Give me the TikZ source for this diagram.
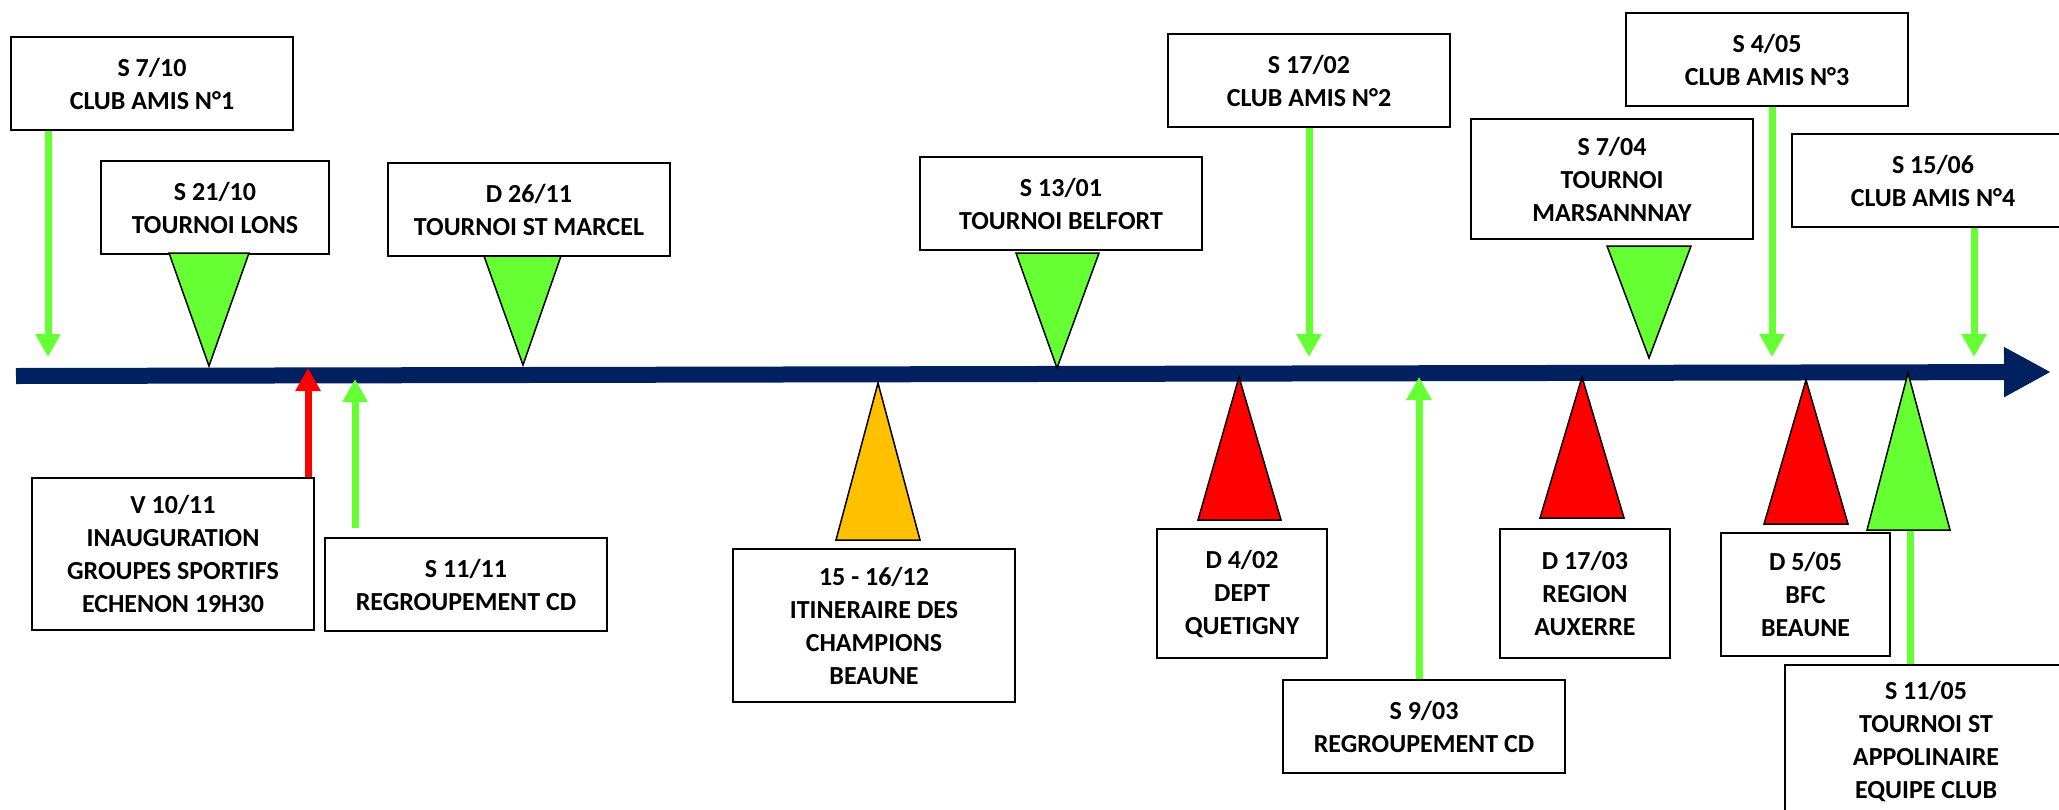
\documentclass[tikz,border=0pt]{standalone}
\usepackage{fontspec}
\setmainfont{Carlito}
\usetikzlibrary{arrows.meta}

\definecolor{navy}{HTML}{002060}
\definecolor{vert}{HTML}{66FF33}
\definecolor{rouge}{HTML}{FF0000}
\definecolor{jaune}{HTML}{FFC000}

\begin{document}
\begin{tikzpicture}[x=0.5pt,y=-0.5pt,
        box/.style={draw, line width=1pt, fill=white, align=center, inner sep=0pt, anchor=north west,
                    font=\fontsize{13}{16.5}\selectfont\bfseries, minimum width=141pt, minimum height=46.5pt},
        flag/.style={draw, line width=0.75pt, line join=miter},
        pointer/.style={line width=3.5pt, -{Triangle[length=11.5pt,width=12pt]}},
        stem/.style={line width=3.5pt}]

        \useasboundingbox (0,0) rectangle (2059,809);

        \node[box]                                          (s0710) at (10,36)    {S 7/10\\CLUB AMIS N°1};
        \node[box, minimum width=114pt]                     (s2110) at (100,160)  {S 21/10\\TOURNOI LONS};
        \node[box]                                          (d2611) at (387,162)  {D 26/11\\TOURNOI ST MARCEL};
        \node[box]                                          (s1301) at (919,156)  {S 13/01\\TOURNOI BELFORT};
        \node[box]                                          (s1702) at (1167,33)  {S 17/02\\CLUB AMIS N°2};
        \node[box, minimum height=60pt]                     (s0704) at (1470,118) {S 7/04\\TOURNOI\\MARSANNNAY};
        \node[box]                                          (s0405) at (1625,12)  {S 4/05\\CLUB AMIS N°3};
        \node[box]                                          (s1506) at (1791,133) {S 15/06\\CLUB AMIS N°4};

        \node[box, minimum height=76pt]                     (v1011) at (31,477)   {V 10/11\\INAUGURATION\\GROUPES SPORTIFS\\ECHENON 19H30};
        \node[box]                                          (s1111) at (324,537)  {S 11/11\\REGROUPEMENT CD};
        \node[box, minimum height=76.5pt]                   (d1512) at (732,548)  {15 - 16/12\\ITINERAIRE DES\\CHAMPIONS\\BEAUNE};
        \node[box, minimum width=85pt, minimum height=64.5pt]   (d0402) at (1156,528) {D 4/02\\DEPT\\QUETIGNY};
        \node[box]                                          (s0903) at (1282,679) {S 9/03\\REGROUPEMENT CD};
        \node[box, minimum width=85pt, minimum height=64.5pt]   (d1703) at (1499,528) {D 17/03\\REGION\\AUXERRE};
        \node[box, minimum width=84.5pt, minimum height=61.5pt] (d0505) at (1720,532) {D 5/05\\BFC\\BEAUNE};
        \node[box, minimum height=76pt]                     (s1105) at (1784,664) {S 11/05\\TOURNOI ST\\APPOLINAIRE\\EQUIPE CLUB};

        \coordinate (debut) at (16,376);
        \coordinate (fin)   at (2051,372);
        \draw[navy, line width=8pt, -{Triangle[length=23.5pt,width=23.5pt]}] (debut) -- (fin);

        \coordinate (p0710) at (48,357);
        \coordinate (p1702) at (1309,357);
        \coordinate (p0405) at (1772,357);
        \coordinate (p1506) at (1974,357);
        \coordinate (p1011) at (308,368);
        \coordinate (p1111) at (355,379);
        \coordinate (p0903) at (1419,377);
        \coordinate (b1105) at (1910,530);

        \draw[pointer, vert]  (s0710.south -| p0710) -- (p0710);
        \draw[pointer, vert]  (s1702.south -| p1702) -- (p1702);
        \draw[pointer, vert]  (s0405.south -| p0405) -- (p0405);
        \draw[pointer, vert]  (s1506.south -| p1506) -- (p1506);
        \draw[pointer, rouge] (v1011.north -| p1011) -- (p1011);
        \draw[pointer, vert, shorten <=4.5pt] (s1111.north -| p1111) -- (p1111);
        \draw[pointer, vert]  (s0903.north -| p0903) -- (p0903);
        \draw[stem, vert]     (s1105.north -| b1105) -- (b1105);

        \draw[flag, fill=vert]  (169,253) -- (249,253) -- (209,366) -- cycle;
        \draw[flag, fill=vert]  (484,256) -- (561,256) -- (523,365) -- cycle;
        \draw[flag, fill=vert]  (1016,253) -- (1099,253) -- (1057,368) -- cycle;
        \draw[flag, fill=vert]  (1607,246) -- (1691,246) -- (1649,358) -- cycle;
        \draw[flag, fill=jaune] (836,540) -- (920,540) -- (878,383) -- cycle;
        \draw[flag, fill=rouge] (1198,520) -- (1281,520) -- (1239,377) -- cycle;
        \draw[flag, fill=rouge] (1540,518) -- (1624,518) -- (1582,377) -- cycle;
        \draw[flag, fill=rouge] (1764,524) -- (1848,524) -- (1806,380) -- cycle;
        \draw[flag, fill=vert]  (1867,530) -- (1950,530) -- (1908,373) -- cycle;
    \end{tikzpicture}
\end{document}
